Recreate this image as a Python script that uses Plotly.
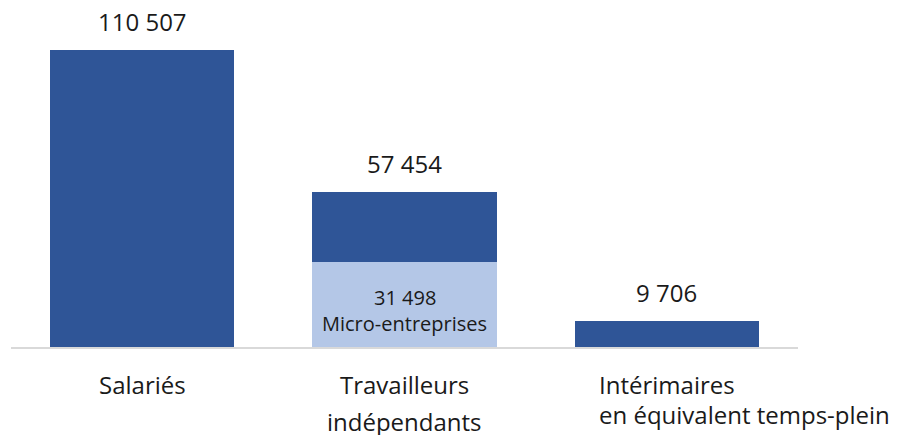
"""Stacked bar: salariés, indépendants, intérimaires."""

import plotly.graph_objects as go

# data
CATEGORIES = ["Salariés", "Travailleurs indépendants", "Intérimaires"]
CATEGORY_LINES = [
    ["Salariés"],
    ["Travailleurs", "indépendants"],
    ["Intérimaires", "en équivalent temps-plein"],
]
TOTALS = [110507, 57454, 9706]
MICRO = [0, 31498, 0]
MICRO_LABEL = "Micro-entreprises"

DARK = "#2F5597"
LIGHT = "#B4C7E7"
AXIS = "#D9D9D9"
TEXT = "#1a1a1a"
FONT = "Open Sans"


def fmt(v):
    return f"{v:,}".replace(",", " ")


rest = [t - m for t, m in zip(TOTALS, MICRO)]

fig = go.Figure()
fig.add_trace(go.Bar(x=CATEGORIES, y=MICRO, marker_color=LIGHT, marker_line_width=0, name=MICRO_LABEL))
fig.add_trace(go.Bar(x=CATEGORIES, y=rest, marker_color=DARK, marker_line_width=0, name="Total"))

annotations = []
# totals above bars
for cat, tot in zip(CATEGORIES, TOTALS):
    annotations.append(dict(
        x=cat, y=tot, xref="x", yref="y", text=fmt(tot), showarrow=False,
        yanchor="bottom", yshift=10, font=dict(size=24, color=TEXT),
    ))

# micro-entreprises label inside the light segment
for cat, m in zip(CATEGORIES, MICRO):
    if m:
        annotations.append(dict(
            x=cat, y=0, xref="x", yref="y", text=fmt(m), showarrow=False,
            yanchor="bottom", yshift=34, font=dict(size=20, color=TEXT),
        ))
        annotations.append(dict(
            x=cat, y=0, xref="x", yref="y", text=MICRO_LABEL, showarrow=False,
            yanchor="bottom", yshift=8, font=dict(size=20, color=TEXT),
        ))

# category labels under the axis
line_shifts = [[-19], [-19, -56], [-19, -49]]
for i, (cat, lines) in enumerate(zip(CATEGORIES, CATEGORY_LINES)):
    for line, ys in zip(lines, line_shifts[i]):
        if i == 2:
            ann = dict(xanchor="left", xshift=-70)
        else:
            ann = dict(xanchor="center")
        annotations.append(dict(
            x=cat, y=0, xref="x", yref="paper", text=line, showarrow=False,
            yanchor="top", yshift=ys, font=dict(size=24, color=TEXT), **ann,
        ))

# page body has an 8px margin, so the figure is sized to fit inside the window
fig.update_layout(
    barmode="stack",
    bargap=0.298,
    width=896,
    height=427,
    margin=dict(l=3, r=106, t=16, b=88),
    paper_bgcolor="white",
    plot_bgcolor="white",
    font=dict(family=FONT, color=TEXT),
    showlegend=False,
    annotations=annotations,
)
fig.update_xaxes(
    range=[-0.5, 2.5], showticklabels=False, showgrid=False, zeroline=False,
    showline=True, linecolor=AXIS, linewidth=2,
)
fig.update_yaxes(range=[0, 120000], visible=False)

fig.write_html("out.html")
